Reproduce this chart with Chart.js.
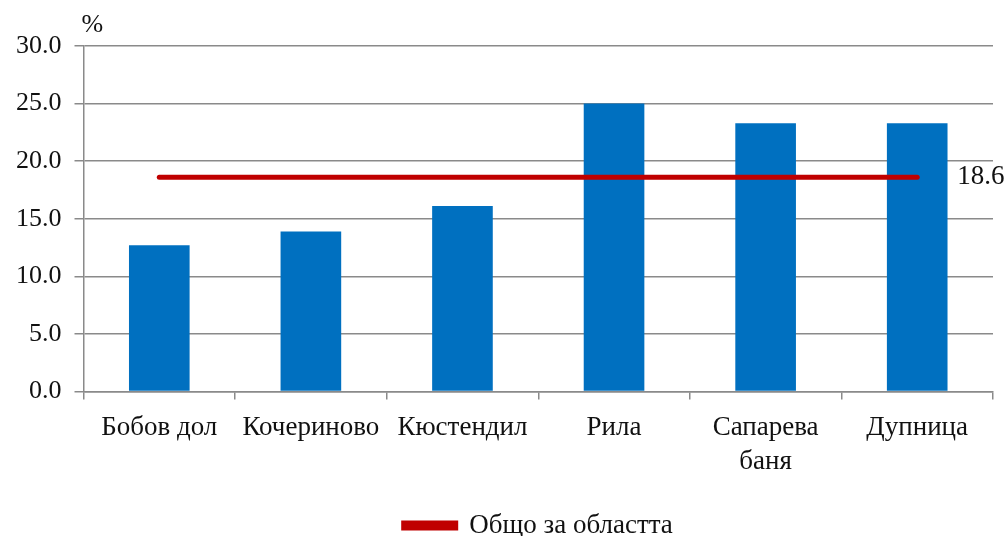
<!DOCTYPE html>
<html lang="bg">
<head>
<meta charset="utf-8">
<title>Общо за областта</title>
<script src="https://cdn.jsdelivr.net/npm/chart.js@4.4.1/dist/chart.umd.min.js"></script>
<style>
    html, body { margin: 0; padding: 0; background: #fff; }
    .chart-box { width: 1006px; height: 536px; position: relative; }
</style>
</head>
<body>
<div class="chart-box"><canvas id="shareChart"></canvas></div>
<script>
/* ==========================================================================
   DATA
   ========================================================================== */
const municipalities = ['Бобов дол', 'Кочериново', 'Кюстендил', 'Рила', ['Сапарева', 'баня'], 'Дупница'];
const shareValues = [12.7, 13.9, 16.1, 25.0, 23.3, 23.3];
const regionTotal = 18.6;
const regionLabel = 'Общо за областта';
const yTicks = [0, 5, 10, 15, 20, 25, 30];

const FONT = '"Liberation Serif", "Times New Roman", serif';
const TEXT = '#111';
const GRID = '#8a8a8a';

// Draws the "%" unit above the y axis and the value label at the end of the total line
const annotations = {
    id: 'annotations',
    afterLayout(chart) {
        // legend sits under the plot area centre, a bit lower than default
        const lg = chart.legend;
        const shift = (chart.chartArea.left + chart.chartArea.right) / 2 - (lg.left + lg.right) / 2;
        lg.left += shift;
        lg.right += shift;
        lg.top += 13;
        lg.bottom += 13;
    },
    afterDatasetsDraw(chart) {
        const ctx = chart.ctx;
        const y = chart.scales.y;
        ctx.save();
        ctx.fillStyle = TEXT;
        ctx.font = '26px ' + FONT;
        ctx.textBaseline = 'middle';
        ctx.textAlign = 'left';
        ctx.fillText('%', y.right - 2, y.top - 21);

        const meta = chart.getDatasetMeta(1);
        const last = meta.data[meta.data.length - 1];
        ctx.font = '27px ' + FONT;
        ctx.fillText(regionTotal.toFixed(1), last.x + 40, last.y);
        ctx.restore();
    }
};

new Chart(document.getElementById('shareChart'), {
    type: 'bar',
    data: {
        labels: municipalities,
        datasets: [
            {
                type: 'bar',
                label: 'Дял',
                data: shareValues,
                backgroundColor: '#0070C0',
                barPercentage: 0.4,
                categoryPercentage: 1.0,
                order: 2
            },
            {
                type: 'line',
                label: regionLabel,
                data: municipalities.map(() => regionTotal),
                borderColor: '#C00000',
                backgroundColor: '#C00000',
                borderWidth: 5,
                borderCapStyle: 'round',
                pointRadius: 0,
                order: 1
            }
        ]
    },
    options: {
        responsive: true,
        maintainAspectRatio: false,
        animation: false,
        layout: { padding: { top: 46, right: 13, left: 3, bottom: 0 } },
        plugins: {
            legend: {
                position: 'bottom',
                labels: {
                    filter: item => item.text === regionLabel,
                    color: TEXT,
                    boxWidth: 52,
                    boxHeight: 5,
                    padding: 8,
                    font: { family: FONT, size: 27 }
                }
            },
            tooltip: { enabled: false }
        },
        scales: {
            y: {
                min: 0,
                max: 30,
                afterBuildTicks: axis => { axis.ticks = yTicks.map(v => ({ value: v })); },
                ticks: {
                    color: TEXT,
                    padding: 13,
                    font: { family: FONT, size: 26 },
                    callback: v => v.toFixed(1)
                },
                grid: { color: GRID, lineWidth: 1.5, tickLength: 9 },
                border: { color: GRID, width: 1.5 }
            },
            x: {
                ticks: {
                    color: TEXT,
                    padding: 12,
                    maxRotation: 0,
                    autoSkip: false,
                    font: { family: FONT, size: 27, lineHeight: 1.25 }
                },
                grid: { color: GRID, lineWidth: 1.5, drawOnChartArea: false, tickLength: 8 },
                border: { color: GRID, width: 1.5 }
            }
        }
    },
    plugins: [annotations]
});
</script>
</body>
</html>
